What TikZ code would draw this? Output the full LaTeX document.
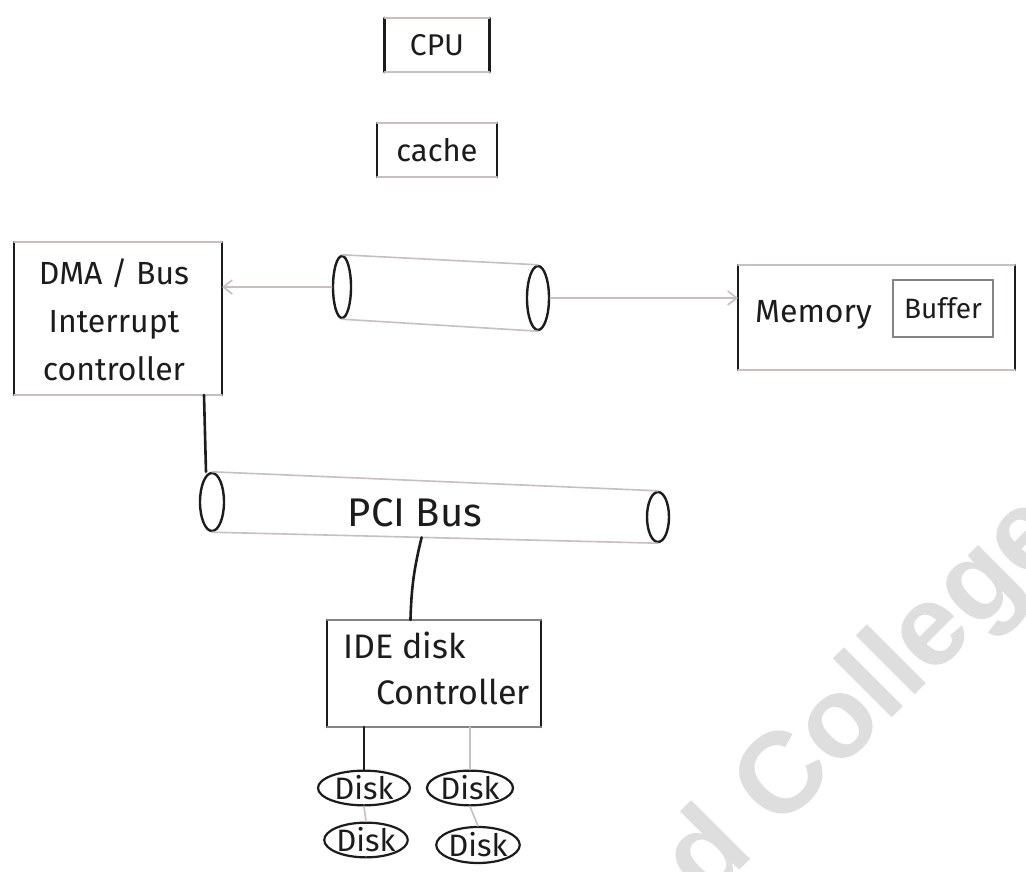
\documentclass[tikz,border=0pt]{standalone}
\usepackage{fontspec}
\setmainfont{Fira Sans}
\newfontfamily\markfont{Liberation Sans}
\usetikzlibrary{shapes.geometric,arrows.meta,calc}
\definecolor{inkc}{HTML}{1C1C1C}
\definecolor{faintc}{HTML}{CABEBE}
\definecolor{midc}{HTML}{8A8282}
\definecolor{markc}{HTML}{DEDEDE}

% box outline: dark sides, lighter top and bottom
\newcommand\sketchbox[3]{%
  \draw[#1] (#3.north west) -- (#3.south west);
  \draw[#1] (#3.north east) -- (#3.south east);
  \draw[#2] (#3.north west) -- (#3.north east);
  \draw[#2] (#3.south west) -- (#3.south east);}

\begin{document}
\begin{tikzpicture}[x=1pt,y=-1pt,
  ink/.style={draw=inkc,line width=2.6pt,line cap=round},
  faint/.style={draw=faintc,line width=1.6pt,line cap=round},
  midline/.style={draw=midc,line width=2pt,line cap=round},
  sbox/.style={inner sep=0pt,outer sep=0pt,text=inkc},
  txt/.style={inner sep=0pt,text=inkc},
  tube/.style={ellipse,draw=inkc,line width=2.4pt,inner sep=0pt},
  disk/.style={ellipse,draw=inkc,line width=2.2pt,inner sep=0pt,text=inkc,
    font=\fontsize{31}{33}\selectfont},
  barb/.style={-{Straight Barb[length=9pt,width=14pt,line width=1.6pt]}}
]
\fill[white] (0,0) rectangle (1026,872);
\useasboundingbox (0,0) rectangle (1026,872);

% watermark
\begin{scope}
  \clip (0,0) rectangle (1026,872);
  \node[rotate=45,anchor=base west,inner sep=0pt,text=markc,
    font=\markfont\bfseries\fontsize{115}{115}\selectfont] (mark) at (706,904) {d College};
\end{scope}

% processor side
\node[sbox,minimum width=105pt,minimum height=54pt,font=\fontsize{30}{32}\selectfont] (cpu) at (437,45) {CPU};
\node[sbox,minimum width=120pt,minimum height=54pt,font=\fontsize{31}{33}\selectfont] (cache) at (437,150) {cache};

% DMA / interrupt controller
\node[sbox,minimum width=208pt,minimum height=153pt] (dma) at (118,318.5) {};
\node[txt,align=center,font=\fontsize{32}{48}\selectfont] (dmatext) at (114,320) {DMA / Bus\\Interrupt\\controller};

% memory with buffer
\node[sbox,minimum width=277pt,minimum height=105pt] (mem) at (876.5,317.5) {};
\node[txt,anchor=base west,font=\fontsize{32}{34}\selectfont] (memtext) at (755,322) {Memory};
\node[sbox,minimum width=100pt,minimum height=57pt,font=\fontsize{28}{30}\selectfont] (buf) at (943,308.5) {Buffer};

% system bus
\node[tube,minimum width=18pt,minimum height=62pt] (ba) at (342,287) {};
\node[tube,minimum width=22pt,minimum height=64pt] (bb) at (538,298) {};
\draw[faint] (ba.north) -- (bb.north);
\draw[faint] (ba.south) -- (bb.south);

% PCI bus
\node[tube,minimum width=24pt,minimum height=58pt] (pa) at (212,502) {};
\node[tube,minimum width=22pt,minimum height=50pt] (pb) at (658,517) {};
\draw[faint] (pa.north) -- (pb.north);
\draw[faint] (pa.south) -- (pb.south);
\node[txt,font=\fontsize{40}{42}\selectfont] (pci) at (415,513) {PCI Bus};

% IDE controller
\node[sbox,minimum width=214pt,minimum height=107pt] (ide) at (434,673.5) {};
\node[txt,align=left,anchor=north west,font=\fontsize{34}{46}\selectfont] (idetext) at (343,632) {IDE disk\\\hspace*{33pt}Controller};

% disks
\node[disk,minimum width=92pt,minimum height=32pt] (d1) at (364,788) {Disk};
\node[disk,minimum width=86pt,minimum height=32pt] (d2) at (470,788) {Disk};
\node[disk,minimum width=83pt,minimum height=34pt] (d3) at (366,840) {Disk};
\node[disk,minimum width=83pt,minimum height=36pt] (d4) at (478,845) {Disk};

% outlines
\sketchbox{ink}{faint}{cpu}
\sketchbox{ink}{faint}{cache}
\sketchbox{ink}{faint}{dma}
\sketchbox{ink}{faint}{mem}
\sketchbox{midline}{midline}{buf}
\sketchbox{ink}{midline}{ide}

% connections
\coordinate (pcidrop) at ($(pa.south)!0.47!(pb.south)$);
\draw[faint,barb] (ba.west) -- (dma.east |- ba.west);
\draw[faint,barb] (bb.east) -- (mem.west |- bb.east);
\draw[ink] ([xshift=-8pt]dma.south -| pa.north) -- ([xshift=-6pt]pa.north);
\draw[ink] (pcidrop) to[bend right=6] ($(ide.north west)!0.39!(ide.north east)$);
\draw[ink] (d1.north |- ide.south) -- (d1.north);
\draw[faint] (d2.north |- ide.south) -- (d2.north);
\draw[faint] (d1.south) -- (d3.north);
\draw[faint] (d2.south) -- (d4.north);
\end{tikzpicture}
\end{document}
